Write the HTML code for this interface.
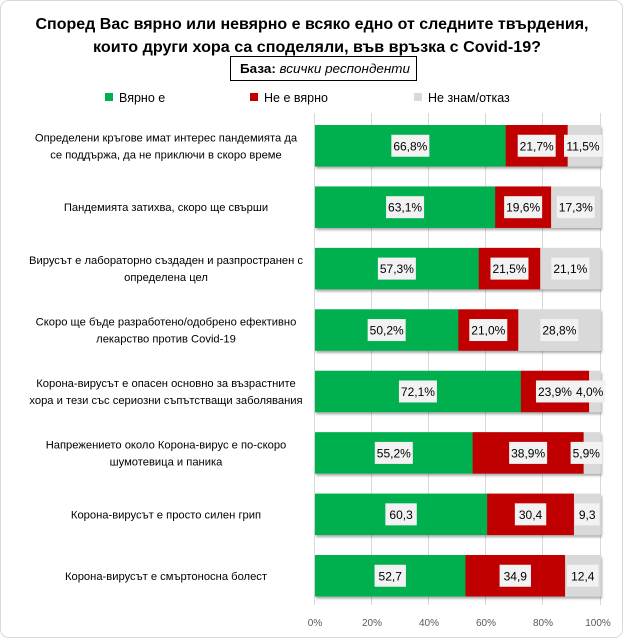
<!DOCTYPE html>
<html><head><meta charset="utf-8"><style>
body{margin:0;background:#fff}
svg{display:block;font-family:"Liberation Sans","DejaVu Sans",sans-serif}
</style></head><body>
<svg width="624" height="639" viewBox="0 0 624 639" xmlns="http://www.w3.org/2000/svg">
<defs><filter id="sh" x="-5%" y="-20%" width="110%" height="150%"><feDropShadow dx="1" dy="2" stdDeviation="1.2" flood-color="#000" flood-opacity="0.35"/></filter></defs>
<rect x="0.5" y="0.5" width="622" height="637" rx="8" fill="#fff" stroke="#d9d9d9"/>
<g font-weight="bold" font-size="16" text-anchor="middle" fill="#000">
<text x="312" y="29" textLength="553" lengthAdjust="spacingAndGlyphs">Според Вас вярно или невярно е всяко едно от следните твърдения,</text>
<text x="317" y="52" textLength="448" lengthAdjust="spacingAndGlyphs">които други хора са споделяли, във връзка с Covid-19?</text>
</g>
<rect x="230.5" y="56.5" width="186" height="24" fill="#fff" stroke="#000"/>
<text x="240" y="73" font-size="12.5" textLength="170" lengthAdjust="spacingAndGlyphs"><tspan font-weight="bold">База: </tspan><tspan font-style="italic">всички респонденти</tspan></text>
<g font-size="12.5">
<rect x="105" y="93" width="8" height="8" fill="#00b050"/><text x="119" y="102">Вярно е</text>
<rect x="250" y="93" width="8" height="8" fill="#c00000"/><text x="264" y="102">Не е вярно</text>
<rect x="414" y="93" width="8" height="8" fill="#d9d9d9"/><text x="428" y="102">Не знам/отказ</text>
</g>
<g stroke="#d9d9d9" stroke-width="1">
<line x1="314.5" y1="113" x2="314.5" y2="605"/>
<line x1="371.5" y1="113" x2="371.5" y2="605"/>
<line x1="428.5" y1="113" x2="428.5" y2="605"/>
<line x1="485.5" y1="113" x2="485.5" y2="605"/>
<line x1="542.5" y1="113" x2="542.5" y2="605"/>
<line x1="600.5" y1="113" x2="600.5" y2="605"/>
</g>
<g font-size="10" fill="#595959" text-anchor="middle">
<text x="315" y="626">0%</text><text x="372" y="626">20%</text><text x="429" y="626">40%</text><text x="486" y="626">60%</text><text x="543" y="626">80%</text><text x="598" y="626">100%</text>
</g>
<g id="bars"></g>
<g id="cats" font-size="11.2" text-anchor="middle" fill="#000"></g>
</svg>
<script>
var data=[
[66.8,21.7,11.5,"%",["Определени кръгове имат интерес пандемията да","се поддържа, да не приключи в скоро време"]],
[63.1,19.6,17.3,"%",["Пандемията затихва, скоро ще свърши"]],
[57.3,21.5,21.1,"%",["Вирусът е лабораторно създаден и разпространен с","определена цел"]],
[50.2,21.0,28.8,"%",["Скоро ще бъде разработено/одобрено ефективно","лекарство против Covid-19"]],
[72.1,23.9,4.0,"%",["Корона-вирусът е опасен основно за възрастните","хора и тези със сериозни съпътстващи заболявания"]],
[55.2,38.9,5.9,"%",["Напрежението около Корона-вирус е по-скоро","шумотевица и паника"]],
[60.3,30.4,9.3,"",["Корона-вирусът е просто силен грип"]],
[52.7,34.9,12.4,"",["Корона-вирусът е смъртоносна болест"]]];
var NS="http://www.w3.org/2000/svg",x0=315,W=285.5,bars=document.getElementById("bars"),cats=document.getElementById("cats");
function el(p,n,a,t){var e=document.createElementNS(NS,n);for(var k in a)e.setAttribute(k,a[k]);if(t!=null)e.textContent=t;p.appendChild(e);return e;}
var cols=["#00b050","#c00000","#d9d9d9"];
data.forEach(function(d,i){
 var y=125+i*61.43,h=41.5,cy=y+h/2;
 var g=el(bars,"g",{filter:"url(#sh)"});
 var x=x0,tot=d[0]+d[1]+d[2];
 var segs=[];
 for(var j=0;j<3;j++){var w=d[j]/tot*W;el(g,"rect",{x:x,y:y,width:w+0.3,height:h,fill:cols[j]});segs.push([x,w]);x+=w;}
 var pos=[];
 for(var j=0;j<3;j++){
  var t=d[j].toFixed(1).replace(".",",")+d[3];
  var bw=t.length*6.6+5,cx=segs[j][0]+segs[j][1]/2;
  if(j==2&&cx+bw/2>602)cx=602-bw/2;
  if(j==2&&pos[1]&&cx-bw/2<pos[1]){cx=pos[1]+bw/2;}
  if(j==1)pos[1]=cx+bw/2;
  el(bars,"rect",{x:cx-bw/2,y:cy-11,width:bw,height:22,fill:"#f2f2f2"});
  el(bars,"text",{x:cx,y:cy+4.5,"font-size":"12","text-anchor":"middle",fill:"#000"},t);
 }
 var L=d[4];
 if(L.length==1)el(cats,"text",{x:166,y:cy+4},L[0]);
 else{el(cats,"text",{x:166,y:cy-4.5},L[0]);el(cats,"text",{x:166,y:cy+12.5},L[1]);}
});
</script>
</body></html>
